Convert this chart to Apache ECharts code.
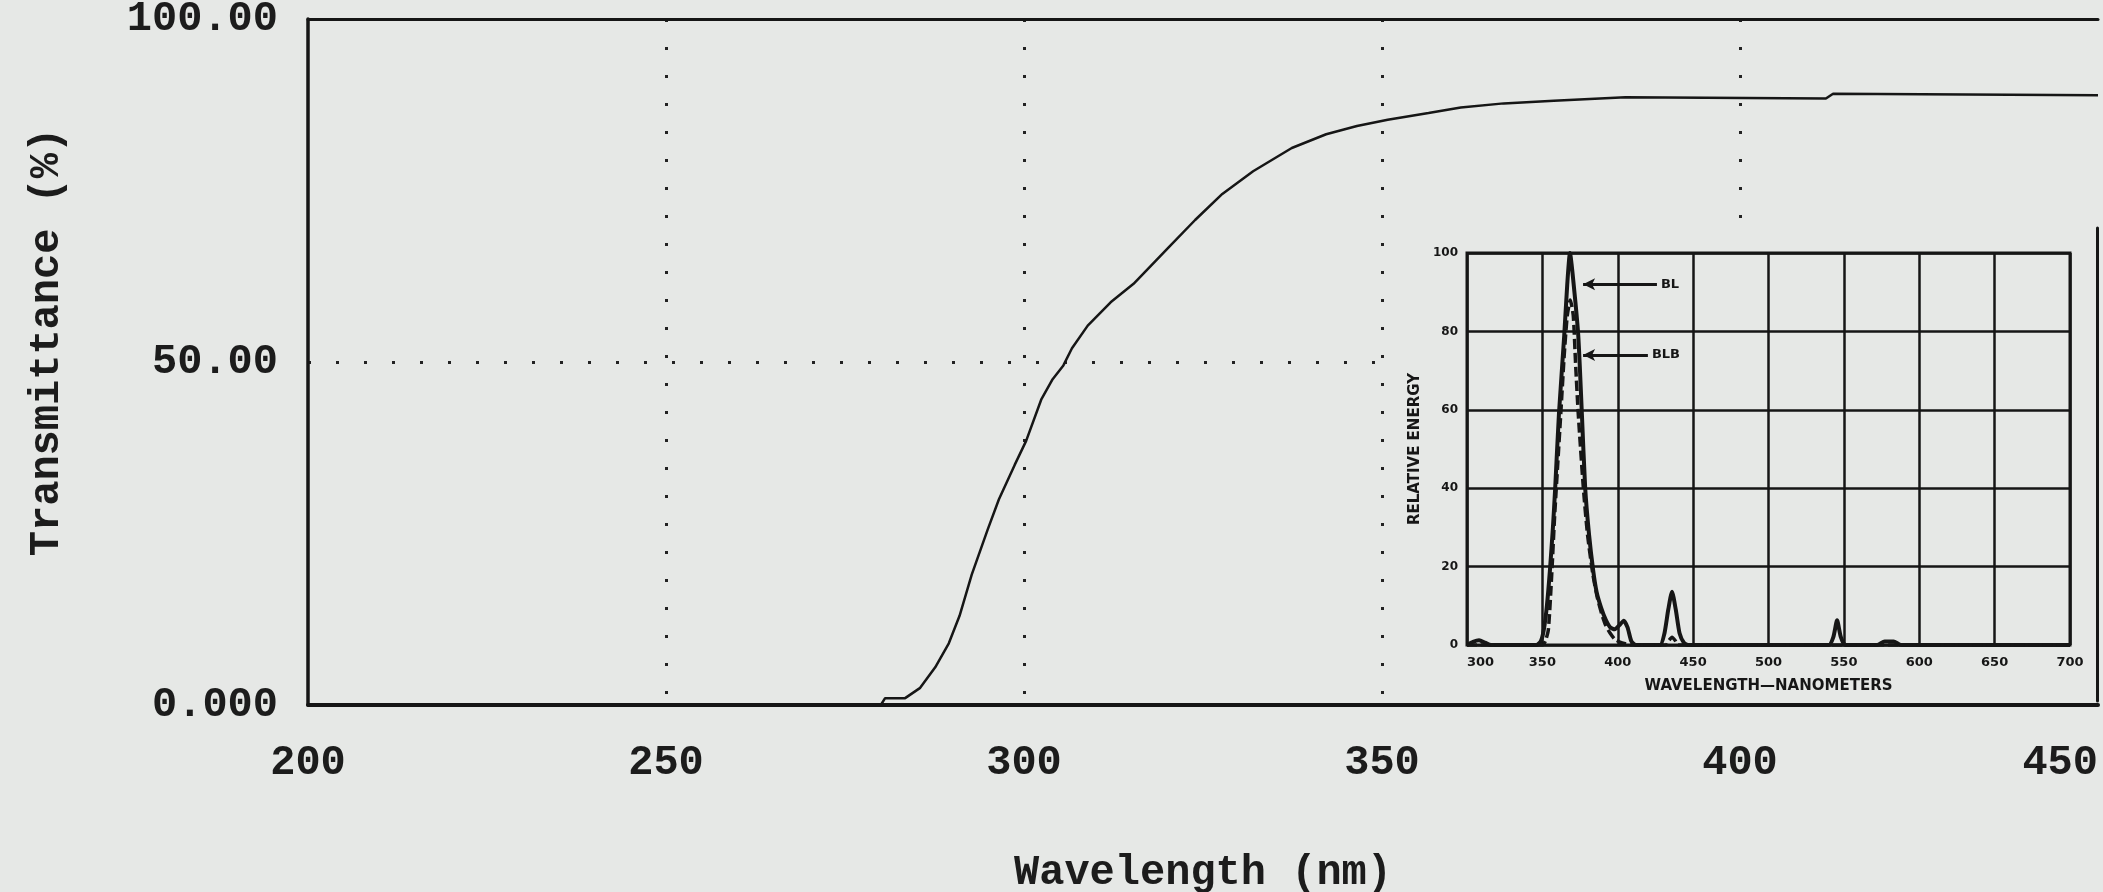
<!DOCTYPE html>
<html>
<head>
<meta charset="utf-8">
<style>
  html, body { margin: 0; padding: 0; background: #e6e8e6; }
  #main { width: 2103px; height: 892px; }
</style>
<script src="https://cdn.jsdelivr.net/npm/echarts@6/dist/echarts.min.js"></script>
</head>
<body>
<div id="main"></div>
<script>
// main transmittance curve
const wavelengths = [200, 280, 280.6, 283.4, 285.5, 287.6, 289.5, 291, 292.7, 294.9, 296.5, 298.7, 300.3, 302.4, 304, 305.5,
  306.7, 308.9, 312.1, 315.3, 320.2, 323.9, 327.7, 332, 337.4, 342.2, 346.5, 350.8, 356.5, 361, 367, 374, 384, 412, 413, 450]
const transmittance = [0, 0, 1, 1, 2.5, 5.5, 9, 13, 19, 25.5, 30, 35, 38.5, 44.5, 47.5, 49.5,
  52, 55.3, 58.7, 61.4, 66.7, 70.7, 74.5, 77.8, 81.2, 83.2, 84.4, 85.3, 86.3, 87.1, 87.7, 88.1, 88.6, 88.4, 89.1, 88.9]
const xTicks = [200, 250, 300, 350, 400, 450]
const yTickLabels = {0: '0.000', 50: '50.00', 100: '100.00'}

// inset: lamp spectra
const blWl = [300, 304, 308, 312, 316, 346, 349, 351, 353, 355, 357, 358.5, 361, 364.5, 366.5, 368.3, 370.5, 373.8, 376.2, 378.4,
  381, 383.7, 386, 389, 392, 395, 398, 401, 404, 406.5, 409, 412, 428, 431, 433.5, 436, 438.5, 441, 444, 447,
  540, 543, 545.5, 548, 551, 572, 577, 583, 588, 700]
const blEnergy = [0, 0.8, 1.2, 0.6, 0, 0, 1, 4, 10, 19, 30, 40, 59, 79, 92, 100, 93, 79, 59, 40,
  28, 19, 13.5, 9.5, 6.5, 4.5, 4, 5, 6.2, 4.5, 1, 0, 0, 3, 9, 13.6, 9, 3, 0.5, 0,
  0, 2, 6.3, 2, 0, 0, 0.9, 0.9, 0, 0]
const blbWl = [300, 350, 352, 354, 356.2, 358, 360, 362.2, 364.5, 366.5, 368.5, 370.5, 372, 373.8, 377.2, 380, 383.5, 386.5,
  389.3, 392, 395, 398, 401, 405, 410, 432, 434, 436, 438, 440, 700]
const blbEnergy = [0, 0, 1, 4, 18, 32, 45, 59, 74, 84, 88, 84, 72, 59, 40, 28, 18, 12,
  8, 5, 3, 1.5, 0.8, 0.3, 0, 0, 1.2, 2, 1.2, 0, 0]
const blArrow = [[426, 92], [377, 92]]
const blbArrow = [[420, 74], [377, 74]]

const BG = '#e6e8e6'
const INK = '#161616'
const MONO = '"Liberation Mono", "DejaVu Sans Mono", monospace'
const SANS = '"DejaVu Sans", sans-serif'

const zip = (a, b) => a.map((v, i) => [v, b[i]])

const monoText = {
  fontFamily: MONO,
  fontSize: 42,
  fontWeight: 'bold',
  color: '#1c1c1c'
}
const dotted = {
  show: true,
  showMinLine: false,
  showMaxLine: false,
  lineStyle: { color: '#222', width: 3, type: [3, 25] }
}
const insetLabel = { fontFamily: SANS, fontWeight: 'bold', color: INK }

const option = {
  backgroundColor: BG,
  animation: false,
  grid: [
    { left: 308, top: 19, width: 1790, height: 686, outerBoundsMode: 'none' },
    // paper cut-out that hides the dotted grid under the inset
    { left: 1392, top: 228, width: 705, height: 473, outerBoundsMode: 'none',
      show: true, backgroundColor: BG, borderWidth: 0, z: 5 },
    { left: 1467, top: 253, width: 603, height: 392, outerBoundsMode: 'none',
      show: true, backgroundColor: 'transparent', borderColor: INK, borderWidth: 3, z: 10 }
  ],
  xAxis: [
    {
      gridIndex: 0, type: 'value', min: 200, max: 450, interval: 50,
      axisLine: { show: true, onZero: false, lineStyle: { color: INK, width: 4 } },
      axisTick: { show: false },
      axisLabel: Object.assign({ margin: 37, alignMaxLabel: 'right', formatter: v => xTicks.indexOf(v) >= 0 ? String(v) : '' }, monoText),
      splitLine: dotted,
      name: 'Wavelength (nm)', nameLocation: 'middle', nameGap: 147,
      nameTextStyle: monoText
    },
    {
      gridIndex: 0, type: 'value', position: 'top', min: 200, max: 450,
      axisLine: { show: true, onZero: false, lineStyle: { color: INK, width: 3 } },
      axisTick: { show: false }, axisLabel: { show: false }, splitLine: { show: false }
    },
    { gridIndex: 1, type: 'value', min: 0, max: 1, show: false },
    {
      gridIndex: 2, type: 'value', min: 300, max: 700, interval: 50, z: 10,
      axisLine: { show: false },
      axisTick: { show: false },
      axisLabel: Object.assign({ fontSize: 13, margin: 11, alignMinLabel: 'left' }, insetLabel),
      splitLine: { show: true, lineStyle: { color: INK, width: 2.5 } },
      name: 'WAVELENGTH\u2014NANOMETERS', nameLocation: 'middle', nameGap: 34,
      nameTextStyle: Object.assign({ fontSize: 15 }, insetLabel)
    }
  ],
  yAxis: [
    {
      gridIndex: 0, type: 'value', min: 0, max: 100, interval: 50,
      axisLine: { show: true, onZero: false, lineStyle: { color: INK, width: 3.5 } },
      axisTick: { show: false },
      axisLabel: Object.assign({ margin: 30, formatter: v => yTickLabels[v] || '' }, monoText),
      splitLine: dotted,
      name: 'Transmittance (%)', nameLocation: 'middle', nameGap: 240,
      nameTextStyle: Object.assign({ padding: [0, 0, 0, 40] }, monoText)
    },
    {
      gridIndex: 1, type: 'value', position: 'right', min: 0, max: 1, z: 6,
      axisLine: { show: true, onZero: false, lineStyle: { color: INK, width: 3 } },
      axisTick: { show: false }, axisLabel: { show: false }, splitLine: { show: false }
    },
    {
      gridIndex: 2, type: 'value', min: 0, max: 100, interval: 20, z: 10,
      axisLine: { show: false },
      axisTick: { show: false },
      axisLabel: Object.assign({ fontSize: 12, margin: 9 }, insetLabel),
      splitLine: { show: true, lineStyle: { color: INK, width: 2.5 } },
      name: 'RELATIVE ENERGY', nameLocation: 'middle', nameGap: 44,
      nameTextStyle: Object.assign({ fontSize: 15 }, insetLabel)
    }
  ],
  series: [
    {
      name: 'Transmittance', type: 'line', xAxisIndex: 0, yAxisIndex: 0,
      showSymbol: false, silent: true,
      lineStyle: { color: INK, width: 2.5 },
      data: zip(wavelengths, transmittance)
    },
    {
      name: 'BL', type: 'line', xAxisIndex: 3, yAxisIndex: 2, z: 12,
      showSymbol: false, silent: true, smooth: 0.2,
      lineStyle: { color: INK, width: 4 },
      data: zip(blWl, blEnergy),
      markLine: {
        silent: true, symbol: ['none', 'arrow'], symbolSize: [9, 12],
        lineStyle: { color: INK, width: 3, type: 'solid' },
        label: Object.assign({ show: true, position: 'start', formatter: 'BL', fontSize: 13, distance: 4 }, insetLabel),
        data: [[{ coord: blArrow[0] }, { coord: blArrow[1] }]]
      }
    },
    {
      name: 'BLB', type: 'line', xAxisIndex: 3, yAxisIndex: 2, z: 13,
      showSymbol: false, silent: true, smooth: 0.2,
      lineStyle: { color: INK, width: 3.5, type: [10, 4] },
      data: zip(blbWl, blbEnergy),
      markLine: {
        silent: true, symbol: ['none', 'arrow'], symbolSize: [9, 12],
        lineStyle: { color: INK, width: 3, type: 'solid' },
        label: Object.assign({ show: true, position: 'start', formatter: 'BLB', fontSize: 13, distance: 4 }, insetLabel),
        data: [[{ coord: blbArrow[0] }, { coord: blbArrow[1] }]]
      }
    }
  ]
}

const chart = echarts.init(document.getElementById('main'))
chart.setOption(option)
</script>
</body>
</html>
